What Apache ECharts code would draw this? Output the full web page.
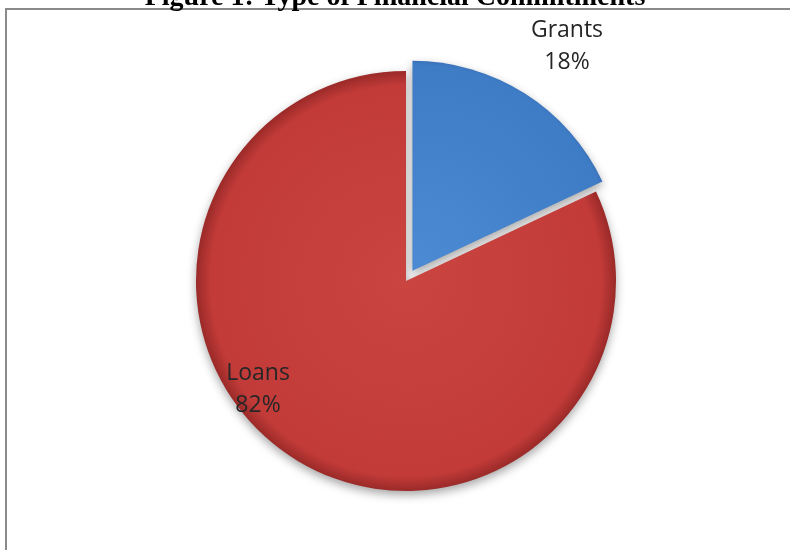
<!DOCTYPE html>
<html>
<head>
<meta charset="utf-8">
<script src="https://cdn.jsdelivr.net/npm/echarts@6/dist/echarts.min.js"></script>
<style>html,body{margin:0;padding:0;background:#fff}#c{width:790px;height:550px}</style>
</head>
<body>
<div id="c"></div>
<script>
const titleText = 'Figure 1: Type of Financial Commitments';
const categories = ['Grants', 'Loans'];
const values = [18, 82];
const colorsBase = [
  ['#4C8AD4', '#3F7CC6', '#2D5C9A'],
  ['#CA4440', '#C23B39', '#9A2A28']
];

const CX = 406, CY = 281, R = 210, OFF = 12;
const chart = echarts.init(document.getElementById('c'));
const total = values.reduce((a, b) => a + b, 0);
let acc = 0;
const data = categories.map((name, i) => {
  const mid = (acc + values[i] / 2) / total * 2 * Math.PI;
  acc += values[i];
  const sel = i === 0;
  const gx = CX + (sel ? Math.sin(mid) * OFF : 0);
  const gy = CY - (sel ? Math.cos(mid) * OFF : 0);
  return {
    name: name,
    value: values[i],
    selected: sel,
    itemStyle: {
      color: {
        type: 'radial', x: gx, y: gy, r: R, global: true,
        colorStops: [
          { offset: 0, color: colorsBase[i][0] },
          { offset: 0.93, color: colorsBase[i][1] },
          { offset: 1, color: colorsBase[i][2] }
        ]
      }
    }
  };
});
const labelPos = [[567, 46], [258, 389]];
const labelTexts = categories.map((c, i) => ({
  type: 'text',
  x: labelPos[i][0],
  y: labelPos[i][1],
  z: 100,
  style: {
    text: c + '\n' + Math.round(values[i] / total * 100) + '%',
    fontFamily: 'Open Sans',
    fontSize: 23,
    lineHeight: 32,
    fill: '#262626',
    align: 'center',
    verticalAlign: 'middle'
  }
}));

chart.setOption({
  animation: false,
  title: {
    text: titleText,
    left: 'center',
    top: -21,
    textStyle: { fontFamily: 'Liberation Serif', fontWeight: 'bold', fontSize: 28, color: '#000' }
  },
  graphic: [{
    type: 'rect',
    shape: { x: 6, y: 9, width: 820, height: 600 },
    style: { fill: 'none', stroke: '#8a8a8a', lineWidth: 2 },
    z: 0
  }].concat(labelTexts),
  series: [{
    type: 'pie',
    center: [CX, CY],
    radius: R,
    startAngle: 90,
    clockwise: true,
    selectedMode: 'single',
    selectedOffset: OFF,
    data: data,
    itemStyle: {
      borderWidth: 0,
      shadowBlur: 10,
      shadowColor: 'rgba(0,0,0,0.35)',
      shadowOffsetY: 4
    },
    emphasis: { disabled: true },
    label: { show: false },
    labelLine: { show: false }
  }]
});
</script>
</body>
</html>
